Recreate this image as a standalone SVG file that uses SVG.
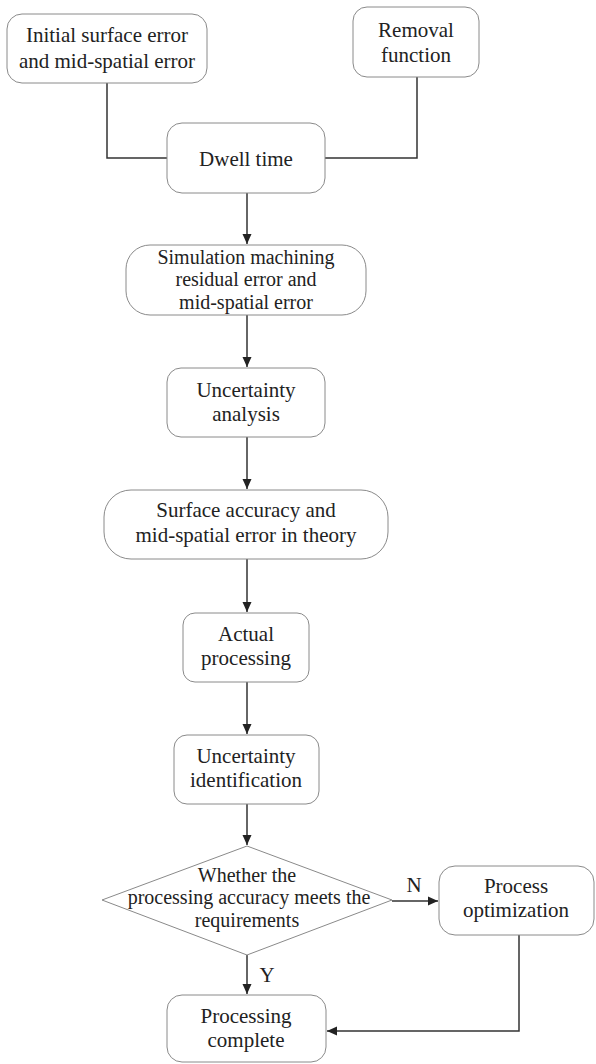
<svg xmlns="http://www.w3.org/2000/svg" width="596" height="1064" viewBox="0 0 596 1064">
<style>
.box{fill:#fff;stroke:#8a8a8a;stroke-width:1}
.t{font-family:"Liberation Serif","Times New Roman",Times,"DejaVu Serif",serif;font-size:21px;fill:#222;text-anchor:middle}
.t3{font-size:20px}
.c{fill:none;stroke:#333;stroke-width:1.5}
</style>
<defs>
<marker id="ah" viewBox="0 0 10 10" refX="10" refY="5" markerWidth="10" markerHeight="10" markerUnits="userSpaceOnUse" orient="auto">
<path d="M0,0.5 L10,5 L0,9.5 Z" fill="#222"/>
</marker>
</defs>
<rect width="596" height="1064" fill="#fff"/>
<g id="connectors">
<path class="c" d="M107,83 V158 H167"/>
<path class="c" d="M417,77 V158 H325"/>
<path class="c" d="M247,193 V244" marker-end="url(#ah)"/>
<path class="c" d="M247,315 V367" marker-end="url(#ah)"/>
<path class="c" d="M247,437 V489" marker-end="url(#ah)"/>
<path class="c" d="M247,559 V612" marker-end="url(#ah)"/>
<path class="c" d="M247,682 V734" marker-end="url(#ah)"/>
<path class="c" d="M247,804 V845" marker-end="url(#ah)"/>
<path class="c" d="M392,901 H438" stroke-width="2" marker-end="url(#ah)"/>
<path class="c" d="M247,955 V994" marker-end="url(#ah)"/>
<path class="c" d="M519,935 V1031 H327" marker-end="url(#ah)"/>
<text class="t" x="414" y="892">N</text>
<text class="t" x="267" y="982">Y</text>
</g>
<g id="initial">
<rect class="box" x="7" y="14" width="200" height="69" rx="15"/>
<text class="t" x="107" y="42"><tspan x="107">Initial surface error</tspan><tspan x="107" dy="26">and mid-spatial error</tspan></text>
</g>
<g id="removal">
<rect class="box" x="353" y="7" width="126" height="70" rx="14"/>
<text class="t" x="416" y="37"><tspan x="416">Removal</tspan><tspan x="416" dy="25">function</tspan></text>
</g>
<g id="dwell">
<rect class="box" x="167" y="123" width="158" height="70" rx="15"/>
<text class="t" x="246" y="166">Dwell time</text>
</g>
<g id="simulation">
<rect class="box" x="126" y="245" width="240" height="70" rx="24"/>
<text class="t t3" x="246" y="263.5"><tspan x="246">Simulation machining</tspan><tspan x="246" dy="22.5">residual error and</tspan><tspan x="246" dy="22.5">mid-spatial error</tspan></text>
</g>
<g id="uncertainty-analysis">
<rect class="box" x="167" y="368" width="158" height="69" rx="14"/>
<text class="t" x="246" y="397"><tspan x="246">Uncertainty</tspan><tspan x="246" dy="24">analysis</tspan></text>
</g>
<g id="surface">
<rect class="box" x="104" y="490" width="284" height="69" rx="27"/>
<text class="t" x="246" y="517"><tspan x="246">Surface accuracy and</tspan><tspan x="246" dy="25">mid-spatial error in theory</tspan></text>
</g>
<g id="actual">
<rect class="box" x="183" y="613" width="126" height="69" rx="12"/>
<text class="t" x="246" y="641"><tspan x="246">Actual</tspan><tspan x="246" dy="24">processing</tspan></text>
</g>
<g id="uncertainty-identification">
<rect class="box" x="174" y="735" width="145" height="69" rx="13"/>
<text class="t" x="246" y="763"><tspan x="246">Uncertainty</tspan><tspan x="246" dy="24">identification</tspan></text>
</g>
<g id="decision">
<polygon class="box" points="247,846 392,900 247,955 102,900"/>
<text class="t t3" x="247" y="881.5"><tspan x="247">Whether the</tspan><tspan x="249" dy="22.5">processing accuracy meets the</tspan><tspan x="247" dy="22.5">requirements</tspan></text>
</g>
<g id="optimization">
<rect class="box" x="439" y="866" width="155" height="69" rx="16"/>
<text class="t" x="516" y="893"><tspan x="516">Process</tspan><tspan x="516" dy="24">optimization</tspan></text>
</g>
<g id="complete">
<rect class="box" x="167" y="995" width="159" height="67" rx="15"/>
<text class="t" x="246" y="1023"><tspan x="246">Processing</tspan><tspan x="246" dy="24">complete</tspan></text>
</g>
</svg>
